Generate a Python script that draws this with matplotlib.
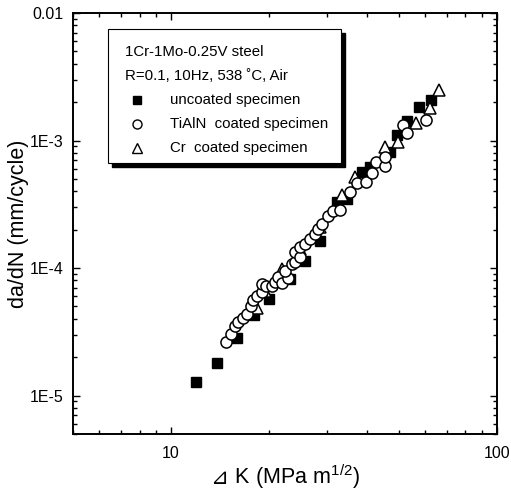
import numpy as np
import matplotlib
matplotlib.use("Agg")
import matplotlib.pyplot as plt
from matplotlib.patches import Rectangle
from matplotlib.offsetbox import TextArea, HPacker, AnchoredOffsetbox
from matplotlib.ticker import LogLocator, NullFormatter, FixedLocator, FixedFormatter

plt.rcParams['font.family'] = ['Liberation Sans', 'DejaVu Sans']
plt.rcParams['mathtext.fontset'] = 'custom'
plt.rcParams['mathtext.rm'] = 'Liberation Sans'

# uncoated specimen (filled squares)
uncoated_dk = [11.9, 13.8, 15.9, 18.0, 20.0, 23.2, 25.8, 28.6, 32.3, 34.6,
               38.5, 40.7, 46.9, 49.3, 52.9, 57.6, 62.7]
uncoated_dadn = [1.27e-5, 1.81e-5, 2.84e-5, 4.30e-5, 5.73e-5, 8.2e-5, 1.13e-4,
                 1.63e-4, 3.28e-4, 3.46e-4, 5.62e-4, 6.15e-4, 8.06e-4, 1.11e-3,
                 1.43e-3, 1.84e-3, 2.09e-3]

# TiAlN coated specimen (open circles)
tialn_dk = [14.7, 15.3, 15.7, 16.0, 16.6, 17.1, 17.6, 17.8, 18.3, 19.0,
            19.0, 19.5, 20.4, 20.8, 21.3, 21.9, 22.8, 22.3, 23.5, 24.0,
            24.0, 24.8, 24.8, 25.7, 26.7, 27.6, 28.2, 29.0, 30.3, 31.4,
            33.0, 35.4, 37.2, 39.6, 41.3, 42.5, 45.3, 45.3, 51.4, 52.9, 60.5]
tialn_dadn = [2.64e-5, 3.05e-5, 3.52e-5, 3.79e-5, 4.07e-5, 4.37e-5, 5.05e-5,
              5.62e-5, 6.04e-5, 6.50e-5, 7.5e-5, 7.24e-5, 7.24e-5, 7.78e-5,
              8.5e-5, 7.64e-5, 8.35e-5, 9.48e-5, 1.07e-4, 1.11e-4, 1.33e-4,
              1.22e-4, 1.46e-4, 1.54e-4, 1.69e-4, 1.84e-4, 2.02e-4, 2.21e-4,
              2.55e-4, 2.79e-4, 2.84e-4, 3.92e-4, 4.61e-4, 4.70e-4, 5.52e-4,
              6.73e-4, 6.26e-4, 7.37e-4, 1.33e-3, 1.15e-3, 1.46e-3]

# Cr coated specimen (open triangles)
cr_dk = [18.3, 19.4, 21.9, 24.8, 28.6, 33.4, 36.7, 45.3, 49.7, 56.4, 62.2, 66.4]
cr_dadn = [4.87e-5, 6.61e-5, 9.82e-5, 1.41e-4, 2.09e-4, 3.72e-4, 5.14e-4,
           8.82e-4, 9.8e-4, 1.38e-3, 1.81e-3, 2.50e-3]

legend_title = ["1Cr-1Mo-0.25V steel", "R=0.1, 10Hz, 538 ˚C, Air"]
legend_labels = ["uncoated specimen", "TiAlN  coated specimen", "Cr  coated specimen"]

fig = plt.figure(figsize=(5.11, 4.92), dpi=100)
ax = fig.add_axes([0.1429, 0.1179, 0.8297, 0.8557])

ax.plot(uncoated_dk, uncoated_dadn, ls='none', marker='s', ms=7,
        mfc='black', mec='black', zorder=3)
ax.plot(cr_dk, cr_dadn, ls='none', marker='^', ms=8.5,
        mfc='white', mec='black', mew=1.1, zorder=4)
ax.plot(tialn_dk, tialn_dadn, ls='none', marker='o', ms=8,
        mfc='white', mec='black', mew=1.1, zorder=5)

ax.set_xscale('log')
ax.set_yscale('log')
ax.set_xlim(5, 100)
ax.set_ylim(5e-6, 1e-2)

ax.xaxis.set_major_locator(FixedLocator([10, 100]))
ax.xaxis.set_major_formatter(FixedFormatter(['10', '100']))
ax.xaxis.set_minor_locator(LogLocator(base=10, subs=np.arange(2, 10)))
ax.xaxis.set_minor_formatter(NullFormatter())
ax.yaxis.set_major_locator(FixedLocator([1e-5, 1e-4, 1e-3, 1e-2]))
ax.yaxis.set_major_formatter(FixedFormatter(['1E-5', '1E-4', '1E-3', '0.01']))
ax.yaxis.set_minor_locator(LogLocator(base=10, subs=np.arange(2, 10)))
ax.yaxis.set_minor_formatter(NullFormatter())

ax.tick_params(which='both', direction='in', top=True, right=True, width=1)
ax.tick_params(which='major', length=5, labelsize=11.5)
ax.tick_params(axis='x', which='major', pad=9)
ax.tick_params(axis='y', which='major', pad=7)
ax.tick_params(which='minor', length=3)
for sp in ax.spines.values():
    sp.set_linewidth(1.4)

# x label: triangle glyph comes from DejaVu Sans, the rest from Liberation Sans
tri = TextArea("⊿", textprops=dict(fontsize=15.5, family=['DejaVu Sans'], style='italic'))
rest = TextArea(" K (MPa m$^{1/2}$)", textprops=dict(fontsize=15.5))
xlab = HPacker(children=[tri, rest], align='baseline', pad=0, sep=0)
ax.add_artist(AnchoredOffsetbox(loc='upper center', child=xlab, pad=0, borderpad=0,
                                frameon=False, bbox_to_anchor=(0.5, -0.068),
                                bbox_transform=ax.transAxes))
ax.set_ylabel("da/dN (mm/cycle)", fontsize=15.5)
ax.yaxis.set_label_coords(-0.105, 0.5)

# legend box with drop shadow
dx, dy = 4 / 424, 4 / 421
ax.add_patch(Rectangle((0.083 + dx, 0.644 - dy), 0.549, 0.318, transform=ax.transAxes,
                       facecolor='black', edgecolor='black', zorder=6))
ax.add_patch(Rectangle((0.083, 0.644), 0.549, 0.318, transform=ax.transAxes,
                       facecolor='white', edgecolor='black', lw=0.8, zorder=7))

ax.text(0.123, 0.907, legend_title[0], transform=ax.transAxes, fontsize=10.8,
        va='center', zorder=8)
ax.text(0.123, 0.850, legend_title[1], transform=ax.transAxes, fontsize=10.8,
        va='center', zorder=8)
rows = [0.793, 0.736, 0.679]
styles = [dict(marker='s', mfc='black', ms=6),
          dict(marker='o', mfc='white', ms=6.5),
          dict(marker='^', mfc='white', ms=7)]
for yy, lab, st in zip(rows, legend_labels, styles):
    ax.plot([0.151], [yy], transform=ax.transAxes, ls='none', mec='black',
            mew=1, zorder=8, clip_on=False, **st)
    ax.text(0.229, yy, lab, transform=ax.transAxes, fontsize=10.8,
            va='center', zorder=8)

fig.savefig("out.png", dpi=100)
